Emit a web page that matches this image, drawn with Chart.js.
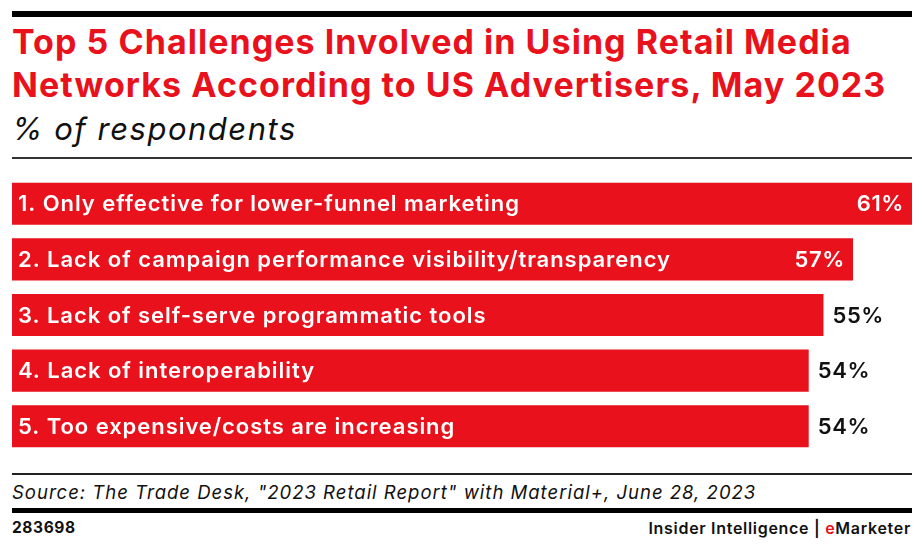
<!DOCTYPE html>
<html lang="en">
<head>
    <meta charset="UTF-8">
    <title>Top 5 Challenges Involved in Using Retail Media Networks</title>
    <style>
        body {
            margin: 0;
            width: 922px;
            height: 550px;
            background: #fff;
            font-family: Inter, "Noto Sans", sans-serif;
            position: relative;
            overflow: hidden;
        }
        .abs { position: absolute; }
        .topbar { left: 12px; top: 11px; width: 900px; height: 6px; background: #000; }
        .title {
            left: 12px; top: 20px;
            color: #e8111c;
            font-size: 34px; font-weight: 700;
            line-height: 43px;
            letter-spacing: 1.05px;
            white-space: nowrap;
        }
        .subtitle {
            left: 12px; top: 110px;
            font-size: 31px; font-style: italic;
            line-height: 38px;
            letter-spacing: 1.5px;
            color: #111;
        }
        .rule1 { left: 12px; top: 157px; width: 900px; height: 2px; background: #333; }
        .chart-box { left: 12px; top: 176px; width: 900px; height: 278px; }
        .rule2 { left: 12px; top: 473px; width: 900px; height: 2px; background: #222; }
        .source {
            left: 12px; top: 481px;
            font-size: 18.5px; font-style: italic; color: #111;
            letter-spacing: 1px;
            white-space: nowrap;
        }
        .rule3 { left: 12px; top: 508px; width: 900px; height: 5px; background: #000; }
        .id { left: 12px; top: 518px; font-size: 15.5px; font-weight: 700; color: #111; letter-spacing: 0.6px; }
        .brand { right: 11px; top: 518px; font-size: 16px; font-weight: 600; color: #111; letter-spacing: 0.7px; }
        .brand span { color: #e8111c; }
    </style>
    <script src="https://cdn.jsdelivr.net/npm/chart.js@4.4.0/dist/chart.umd.min.js"></script>
</head>
<body>
    <div class="abs topbar"></div>
    <div class="abs title">Top 5 Challenges Involved in Using Retail Media<br>Networks According to US Advertisers, May 2023</div>
    <div class="abs subtitle">% of respondents</div>
    <div class="abs rule1"></div>

    <div class="abs chart-box">
        <canvas id="barChart"></canvas>
    </div>

    <div class="abs rule2"></div>
    <div class="abs source">Source: The Trade Desk, "2023 Retail Report" with Material+, June 28, 2023</div>
    <div class="abs rule3"></div>
    <div class="abs id">283698</div>
    <div class="abs brand">Insider Intelligence | <span>e</span>Marketer</div>

    <script>
        // chart data
        const categories = [
            '1. Only effective for lower-funnel marketing',
            '2. Lack of campaign performance visibility/transparency',
            '3. Lack of self-serve programmatic tools',
            '4. Lack of interoperability',
            '5. Too expensive/costs are increasing'
        ];
        const values = [61, 57, 55, 54, 54];
        const axisMax = 61;

        const RED = '#e8111c';
        const INSIDE_MIN = 56; // values above this get their label inside the bar

        // draws the category text inside each bar and the % value
        const barLabels = {
            id: 'barLabels',
            afterDatasetsDraw(chart) {
                const ctx = chart.ctx;
                const meta = chart.getDatasetMeta(0);
                ctx.save();
                ctx.textBaseline = 'middle';
                meta.data.forEach((bar, i) => {
                    const y = bar.y + 1;
                    ctx.font = '600 22px Inter';
                    ctx.letterSpacing = '0.95px';
                    ctx.fillStyle = '#fff';
                    ctx.textAlign = 'left';
                    ctx.fillText(categories[i], bar.base + 6, y);

                    const txt = values[i] + '%';
                    ctx.letterSpacing = '0.6px';
                    if (values[i] > INSIDE_MIN) {
                        ctx.fillStyle = '#fff';
                        ctx.textAlign = 'right';
                        ctx.fillText(txt, bar.x - 8, y);
                    } else {
                        ctx.fillStyle = '#111';
                        ctx.textAlign = 'left';
                        ctx.fillText(txt, bar.x + 9, y);
                    }
                });
                ctx.restore();
            }
        };

        new Chart(document.getElementById('barChart'), {
            type: 'bar',
            data: {
                labels: categories,
                datasets: [{
                    data: values,
                    backgroundColor: RED,
                    borderWidth: 0,
                    barPercentage: 0.78,
                    categoryPercentage: 0.97
                }]
            },
            options: {
                indexAxis: 'y',
                responsive: true,
                maintainAspectRatio: false,
                animation: false,
                layout: { padding: 0 },
                scales: {
                    x: { display: false, min: 0, max: axisMax },
                    y: { display: false }
                },
                plugins: {
                    legend: { display: false },
                    tooltip: { enabled: false }
                }
            },
            plugins: [barLabels]
        });
    </script>
</body>
</html>
